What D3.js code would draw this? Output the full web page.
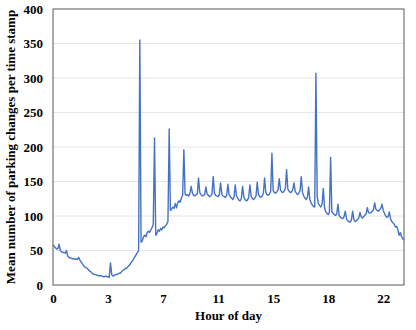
<!DOCTYPE html>
<html lang="en">
<head>
  <meta charset="UTF-8">
  <script src="https://cdn.jsdelivr.net/npm/d3@7"></script>
  <title>Parking changes</title>
  <style>
    body { margin: 0; background: #fff; }
    text { font-family: "Liberation Serif", "Times New Roman", serif; font-weight: bold; fill: #000; }
  </style>
</head>
<body>
<svg width="416" height="330"></svg>
<script>
  // 5-minute time stamps, 288 per day
  var changes = [
    58,56,54,52,53,59,50,48,47,47,46,50,42,40,39,39,38,38,37,38,
    37,40,36,33,31,28,26,25,24,22,20,19,17,16,15,15,14,14,13,14,
    13,12,12,13,12,12,11,32,15,13,14,15,15,16,17,17,19,21,22,24,
    24,26,28,30,33,35,38,41,44,47,50,355,62,64,70,72,70,76,78,76,
    80,83,88,213,72,75,80,78,82,80,84,83,86,88,92,226,108,110,113,111,
    118,112,119,122,120,126,130,196,132,130,131,129,133,143,133,130,129,131,132,155,
    134,131,129,130,131,142,132,130,128,129,132,157,133,130,129,128,131,148,132,129,
    128,127,130,146,131,128,126,124,127,145,129,126,123,122,125,143,128,124,122,123,
    127,145,129,125,124,126,129,149,131,128,127,129,133,155,134,131,130,132,136,191,
    137,134,133,135,138,154,138,135,134,136,140,167,139,136,134,135,138,148,136,133,
    131,133,137,157,134,129,126,124,127,142,124,119,116,114,113,307,128,118,115,113,
    117,140,112,106,104,102,105,185,106,104,102,101,103,117,101,98,97,96,99,107,
    96,93,92,91,94,107,95,92,93,95,97,105,99,97,99,101,103,112,105,104,
    105,107,109,119,110,108,107,109,111,117,108,104,100,98,99,106,96,92,90,88,
    84,85,80,72,76,70,67,65
  ];
  var tickIndex = [0, 45, 90, 135, 180, 225, 270];
  var tickLabels = ["0", "3", "7", "11", "15", "18", "22"];
  var yTicks = [0, 50, 100, 150, 200, 250, 300, 350, 400];

  var svg = d3.select("svg");
  var m = {left: 53, right: 404, top: 9, bottom: 285};

  var x = d3.scaleLinear().domain([0, changes.length - 1]).range([m.left, m.right]);
  var y = d3.scaleLinear().domain([0, 400]).range([m.bottom, m.top]);

  // grid
  svg.append("g").selectAll("line")
    .data(yTicks.slice(1, -1))
    .enter().append("line")
    .attr("x1", m.left).attr("x2", m.right)
    .attr("y1", function(d){ return y(d) }).attr("y2", function(d){ return y(d) })
    .attr("stroke", "#e6e6e6").attr("stroke-width", 1);

  // y axis labels
  var yAxis = d3.axisLeft(y).tickValues(yTicks).tickSize(0).tickPadding(10);
  svg.append("g").attr("transform", "translate(" + m.left + ",0)").call(yAxis)
    .call(function(g){ g.select(".domain").remove() })
    .selectAll("text").style("font-size", "13px").style("font-family", "Liberation Serif");

  // x axis labels
  var xAxis = d3.axisBottom(x).tickValues(tickIndex)
    .tickFormat(function(d, i){ return tickLabels[i] }).tickSize(0).tickPadding(9);
  svg.append("g").attr("transform", "translate(0," + m.bottom + ")").call(xAxis)
    .call(function(g){ g.select(".domain").remove() })
    .selectAll("text").style("font-size", "13px").style("font-family", "Liberation Serif");

  // line
  var line = d3.line()
    .x(function(d, i){ return x(i) })
    .y(function(d){ return y(d) });
  svg.append("path")
    .datum(changes)
    .attr("fill", "none")
    .attr("stroke", "#4472c4")
    .attr("stroke-width", 1.4)
    .attr("stroke-linejoin", "round")
    .attr("d", line);

  // frame
  svg.append("rect")
    .attr("x", m.left).attr("y", m.top)
    .attr("width", m.right - m.left).attr("height", m.bottom - m.top)
    .attr("fill", "none").attr("stroke", "#595959").attr("stroke-width", 1);

  // titles
  svg.append("text")
    .attr("x", (m.left + m.right) / 2).attr("y", 320)
    .attr("text-anchor", "middle").style("font-size", "13px")
    .text("Hour of day");
  svg.append("text")
    .attr("transform", "translate(15," + (m.top + m.bottom) / 2 + ") rotate(-90)")
    .attr("text-anchor", "middle").style("font-size", "13px")
    .text("Mean number of parking changes per time stamp");
</script>
</body>
</html>
